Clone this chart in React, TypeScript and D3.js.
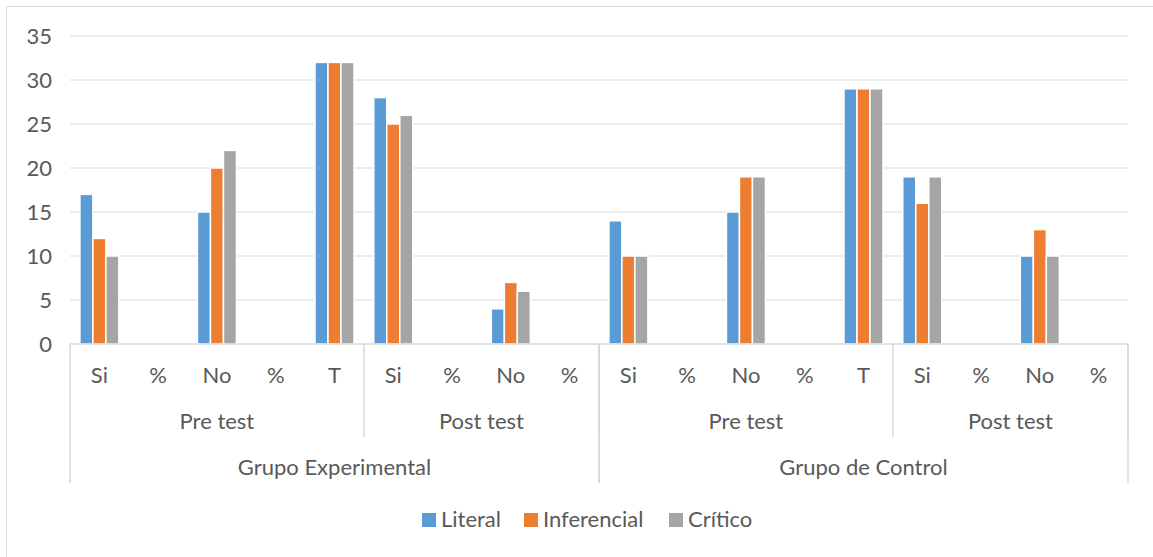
import React from "react";
import * as d3 from "d3";

const categories = ["Si", "%", "No", "%", "T", "Si", "%", "No", "%", "Si", "%", "No", "%", "T", "Si", "%", "No", "%"];
const subgroups = [
  { label: "Pre test", start: 0, end: 5 },
  { label: "Post test", start: 5, end: 9 },
  { label: "Pre test", start: 9, end: 14 },
  { label: "Post test", start: 14, end: 18 },
];
const groups = [
  { label: "Grupo Experimental", start: 0, end: 9 },
  { label: "Grupo de Control", start: 9, end: 18 },
];
const seriesNames = ["Literal", "Inferencial", "Crítico"];
const literal = [17, null, 15, null, 32, 28, null, 4, null, 14, null, 15, null, 29, 19, null, 10, null];
const inferencial = [12, null, 20, null, 32, 25, null, 7, null, 10, null, 19, null, 29, 16, null, 13, null];
const critico = [10, null, 22, null, 32, 26, null, 6, null, 10, null, 19, null, 29, 19, null, 10, null];
const yTicks = [0, 5, 10, 15, 20, 25, 30, 35];
const colors = ["#5B9BD5", "#ED7D31", "#A5A5A5"];

export default function App() {
  const W = 1153, H = 557;
  const left = 70, right = 1128, top = 36, bottom = 344;
  const font = "Lato, 'Open Sans', sans-serif";
  const textColor = "#595959";
  const fs = 22;
  const x = d3.scaleBand<number>().domain(categories.map((_, i) => i)).range([left, right]).padding(0);
  const y = d3.scaleLinear().domain([0, 35]).range([bottom, top]);
  const inner = d3.scaleBand<number>().domain([0, 1, 2]).range([-19.5, 19.5]).padding(0);
  const series = [literal, inferencial, critico];
  const bw = x.bandwidth();
  const edge = (i: number) => (i >= categories.length ? right : (x(i) as number));

  return (
    <svg width={W} height={H} style={{ position: "absolute", left: 0, top: 0, background: "#fff" }} fontFamily={font}>
      <rect x={6.5} y={6.5} width={1160} height={560} fill="#fff" stroke="#D9D9D9" strokeWidth={1} />
      {yTicks.map((t) => (
        <g key={t}>
          {t > 0 && <line x1={left} x2={right} y1={y(t)} y2={y(t)} stroke="#D9D9D9" strokeWidth={1.2} />}
          <text x={52} y={y(t)} dy="0.36em" textAnchor="end" fontSize={fs} fill={textColor}>{t}</text>
        </g>
      ))}
      {series.map((vals, s) =>
        vals.map((v, i) =>
          v == null ? null : (
            <rect
              key={`${s}-${i}`}
              x={(x(i) as number) + bw / 2 + (inner(s) as number)}
              y={y(v)}
              width={inner.bandwidth()}
              height={bottom - y(v)}
              fill={colors[s]}
              stroke="#fff"
              strokeWidth={1.5}
            />
          )
        )
      )}
      <line x1={left} x2={right} y1={bottom} y2={bottom} stroke="#D9D9D9" strokeWidth={1.5} />
      {categories.map((c, i) => (
        <text key={i} x={(x(i) as number) + bw / 2} y={375} dy="0.36em" textAnchor="middle" fontSize={fs} fill={textColor}>{c}</text>
      ))}
      {subgroups.map((g, i) => (
        <g key={i}>
          <text x={(edge(g.start) + edge(g.end)) / 2} y={421} dy="0.36em" textAnchor="middle" fontSize={fs} fill={textColor}>{g.label}</text>
        </g>
      ))}
      {subgroups.map((g, i) => (
        <line key={`sl${i}`} x1={edge(g.end)} x2={edge(g.end)} y1={bottom} y2={437} stroke="#D9D9D9" strokeWidth={1.5} />
      ))}
      {groups.map((g, i) => (
        <g key={i}>
          <text x={(edge(g.start) + edge(g.end)) / 2} y={467} dy="0.36em" textAnchor="middle" fontSize={fs} fill={textColor}>{g.label}</text>
          <line x1={edge(g.start)} x2={edge(g.start)} y1={bottom} y2={483} stroke="#D9D9D9" strokeWidth={1.5} />
          <line x1={edge(g.end)} x2={edge(g.end)} y1={bottom} y2={483} stroke="#D9D9D9" strokeWidth={1.5} />
        </g>
      ))}
      {[422, 524, 669].map((lx, i) => (
        <g key={i}>
          <rect x={lx} y={513} width={14} height={14} fill={colors[i]} />
          <text x={lx + 19} y={519} dy="0.36em" fontSize={fs} fill={textColor}>{seriesNames[i]}</text>
        </g>
      ))}
    </svg>
  );
}
